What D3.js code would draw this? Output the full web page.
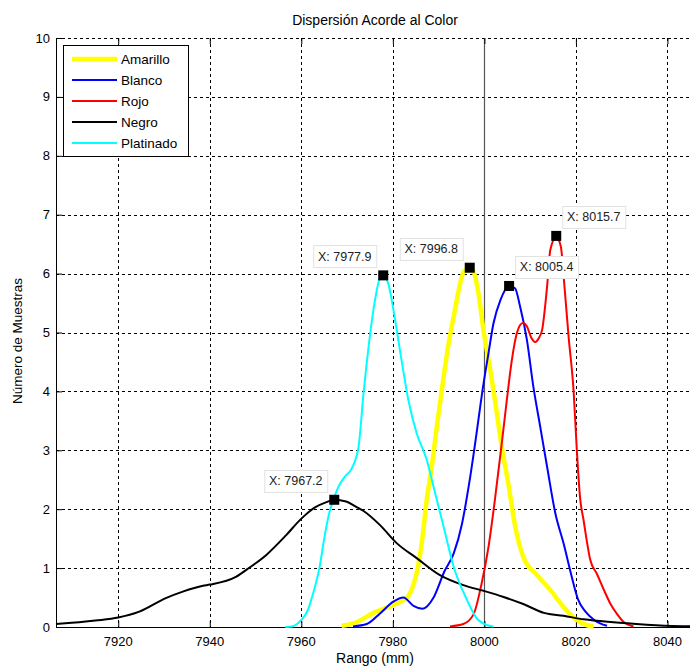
<!DOCTYPE html>
<html>
<head>
<meta charset="utf-8">
<script src="https://cdn.jsdelivr.net/npm/d3@7"></script>
<style>
  body { margin: 0; background: #fff; }
  svg { display: block; font-family: "Liberation Sans", Arial, sans-serif; }
  .grid line { stroke: #000; stroke-dasharray: 3,3; stroke-width: 1; shape-rendering: crispEdges; }
  .tick-label { font-size: 13px; fill: #000; }
</style>
</head>
<body>
<svg id="chart"></svg>
<script>
// values (x in mm, y = count)
var xTicks = [7920, 7940, 7960, 7980, 8000, 8020, 8040];
var yTicks = [0, 1, 2, 3, 4, 5, 6, 7, 8, 9, 10];

var amarillo = [[7968.8,0.02],[7971.4,0.06],[7975.8,0.24],[7980.2,0.38],[7983.1,0.5],[7984.5,0.72],[7985.3,0.95],[7986.3,1.42],[7987.4,2.16],[7988.5,2.72],[7989.6,3.4],[7991.1,4.25],[7992.2,4.82],[7993.3,5.27],[7994.4,5.72],[7995.4,6.02],[7996.8,6.1],[7997.6,6.04],[7998.7,5.67],[7999.8,5.04],[8001.3,4.36],[8002.4,3.8],[8003.8,3.06],[8005.3,2.4],[8006.7,1.72],[8008.5,1.19],[8011.5,0.88],[8014.4,0.63],[8017.3,0.34],[8020.2,0.12],[8022.4,0.03],[8023.9,0.01]];
var blanco = [[7971.3,0.01],[7974.3,0.05],[7977.2,0.23],[7980.1,0.43],[7982.3,0.5],[7984.5,0.36],[7986.5,0.31],[7988.9,0.5],[7991.3,0.95],[7993.3,1.25],[7995.1,1.75],[7996.7,2.45],[7998.4,3.35],[7999.5,3.97],[8000.9,4.65],[8002,5.16],[8003.5,5.55],[8005.4,5.79],[8006.7,5.75],[8007.8,5.44],[8009.3,4.87],[8010.7,4.08],[8012.2,3.4],[8013.7,2.72],[8015.5,1.93],[8017.3,1.42],[8019,0.88],[8020.5,0.46],[8022,0.27],[8024,0.12],[8026.8,0.02]];
var rojo = [[7992.5,0.01],[7995.4,0.05],[7997.6,0.21],[7999.4,0.74],[8000.9,1.36],[8002.2,2.1],[8003.8,3.12],[8004.9,3.85],[8006,4.53],[8007.1,4.99],[8008.4,5.16],[8009.3,5.1],[8010.2,4.92],[8011.1,4.84],[8012,4.92],[8012.6,5.04],[8013.7,5.78],[8014.4,6.4],[8015.7,6.62],[8016.7,6.46],[8017.5,5.78],[8018.4,4.93],[8019.5,4.0],[8020.2,3.0],[8020.9,2.2],[8021.7,1.8],[8022.4,1.45],[8023.1,1.15],[8024.6,0.9],[8026,0.65],[8027.5,0.4],[8029,0.22],[8030.5,0.08],[8032.6,0.01]];
var negro = [[7906.4,0.05],[7915,0.11],[7920,0.16],[7924.6,0.26],[7930.4,0.49],[7934.1,0.6],[7938.5,0.7],[7940,0.72],[7945.7,0.85],[7948.7,1.01],[7952.3,1.22],[7956.7,1.56],[7960,1.84],[7963,2.03],[7965.5,2.12],[7967.2,2.16],[7969.8,2.13],[7972,2.04],[7973.6,1.97],[7977.2,1.73],[7980.9,1.42],[7985.2,1.17],[7990.3,0.88],[7995.4,0.71],[8000,0.61],[8004.2,0.51],[8008.5,0.39],[8013,0.24],[8017.3,0.19],[8021.7,0.13],[8028.2,0.08],[8035.5,0.04],[8039.9,0.02],[8046,0.01]];
var platinado = [[7956.5,0],[7958,0.01],[7960,0.12],[7961.5,0.3],[7962.5,0.55],[7964,1.02],[7965,1.5],[7966,1.9],[7967,2.16],[7968.1,2.38],[7969.5,2.55],[7971,2.69],[7972.5,3.06],[7973.6,3.97],[7974.7,4.76],[7976.1,5.55],[7977.2,5.93],[7977.9,5.97],[7979,5.83],[7980.5,5.21],[7981.9,4.53],[7983.4,3.85],[7985.2,3.29],[7987.4,2.84],[7988.9,2.38],[7991.1,1.7],[7993.3,1.02],[7996.2,0.46],[7998.4,0.14],[8000,0.05],[8002,0.01]];

var seriesNames = ["Amarillo", "Blanco", "Rojo", "Negro", "Platinado"];
var seriesColors = ["#ffff00", "#0000ff", "#ff0000", "#000000", "#00ffff"];
var seriesData = [amarillo, blanco, rojo, negro, platinado];

// data tips: x, y, which side the label box sits on
var tipX = [7977.9, 7996.8, 8005.4, 8015.7, 7967.2];
var tipY = [5.97, 6.10, 5.79, 6.64, 2.16];
var tipSide = ["left", "left", "right", "right", "left"];

var W = 690, H = 667;
var margin = {top: 38, left: 56, bottom: 40, right: -4};
var width = W - margin.left - margin.right,
    height = H - margin.top - margin.bottom;

var svg = d3.select("#chart").attr("width", W).attr("height", H);

var x = d3.scaleLinear().domain([7906.4, 8045.8]).range([0, width]);
var y = d3.scaleLinear().domain([0, 10]).range([height, 0]);

var g = svg.append("g")
    .attr("transform", "translate(" + margin.left + "," + margin.top + ")");

// dashed grid
var grid = g.append("g").attr("class", "grid");
grid.selectAll(".gx").data(xTicks).enter().append("line")
    .attr("x1", function(d) { return Math.round(x(d)) + 0.5; })
    .attr("x2", function(d) { return Math.round(x(d)) + 0.5; })
    .attr("y1", 0).attr("y2", height);
grid.selectAll(".gy").data(yTicks.slice(1)).enter().append("line")
    .attr("y1", function(d) { return Math.round(y(d)) + 0.5; })
    .attr("y2", function(d) { return Math.round(y(d)) + 0.5; })
    .attr("x1", 0).attr("x2", width);

// solid reference line at 8000
g.append("line")
    .attr("x1", Math.round(x(8000)) + 0.5).attr("x2", Math.round(x(8000)) + 0.5)
    .attr("y1", 0).attr("y2", height)
    .attr("stroke", "#555").attr("stroke-width", 1.2);

// axes (ticks pointing inward like matlab)
var xAxis = d3.axisTop(x).tickValues(xTicks).tickSize(6).tickFormat("");
var yAxis = d3.axisRight(y).tickValues(yTicks).tickSize(6).tickFormat("");

g.append("g").attr("transform", "translate(0," + height + ")").call(xAxis)
    .call(function(s) { s.select(".domain").remove(); });
g.append("g").call(d3.axisBottom(x).tickValues(xTicks).tickSize(6).tickFormat(""))
    .call(function(s) { s.select(".domain").remove(); });
g.append("g").call(yAxis)
    .call(function(s) { s.select(".domain").remove(); });

g.append("line").attr("x1", 0.5).attr("x2", 0.5).attr("y1", 0).attr("y2", height)
    .attr("stroke", "#000");
g.append("line").attr("x1", 0).attr("x2", width).attr("y1", height + 0.5).attr("y2", height + 0.5)
    .attr("stroke", "#000");

// tick labels
g.selectAll(".xl").data(xTicks).enter().append("text")
    .attr("class", "tick-label")
    .attr("x", function(d) { return x(d); })
    .attr("y", height + 19)
    .attr("text-anchor", "middle")
    .text(function(d) { return d; });
g.selectAll(".yl").data(yTicks).enter().append("text")
    .attr("class", "tick-label")
    .attr("x", -6)
    .attr("y", function(d) { return y(d) + 4.5; })
    .attr("text-anchor", "end")
    .text(function(d) { return d; });

// curves
var line = d3.line()
    .curve(d3.curveMonotoneX)
    .x(function(d) { return x(d[0]); })
    .y(function(d) { return y(d[1]); });

var plot = g.append("g");
seriesData.forEach(function(s, i) {
    plot.append("path")
        .datum(s)
        .attr("fill", "none")
        .attr("stroke", seriesColors[i])
        .attr("stroke-width", i === 0 ? 4.5 : 2)
        .attr("stroke-linejoin", "round")
        .attr("d", line);
});

// data tips
tipX.forEach(function(tx, i) {
    var px = x(tx), py = y(tipY[i]);
    g.append("rect")
        .attr("x", px - 5).attr("y", py - 5)
        .attr("width", 10).attr("height", 10)
        .attr("fill", "#000");
    var bw = 63, bh = 22;
    var bx = tipSide[i] === "left" ? px - 7 - bw : px + 6;
    var by = py - 8 - bh;
    g.append("rect")
        .attr("x", bx + 0.5).attr("y", Math.round(by) + 0.5)
        .attr("width", bw).attr("height", bh)
        .attr("fill", "#fff").attr("stroke", "#e2e2e2");
    g.append("text")
        .attr("x", bx + bw / 2).attr("y", by + 15.5)
        .attr("text-anchor", "middle")
        .attr("font-size", "12.5px")
        .attr("fill", "#222")
        .text("X: " + tx.toFixed(1));
});

// legend
var lg = g.append("g").attr("transform", "translate(7,7)");
lg.append("rect")
    .attr("x", 0.5).attr("y", 0.5)
    .attr("width", 125).attr("height", 111)
    .attr("fill", "#fff").attr("stroke", "#000");
seriesNames.forEach(function(n, i) {
    var ly = 14 + i * 21;
    lg.append("line")
        .attr("x1", 9).attr("x2", 54)
        .attr("y1", ly).attr("y2", ly)
        .attr("stroke", seriesColors[i])
        .attr("stroke-width", i === 0 ? 4.5 : 2);
    lg.append("text")
        .attr("x", 58).attr("y", ly + 5)
        .attr("font-size", "13.5px")
        .text(n);
});

// titles
svg.append("text")
    .attr("x", 375).attr("y", 25)
    .attr("text-anchor", "middle")
    .attr("font-size", "14px")
    .text("Dispersión Acorde al Color");
svg.append("text")
    .attr("x", 375).attr("y", 663)
    .attr("text-anchor", "middle")
    .attr("font-size", "14px")
    .text("Rango (mm)");
svg.append("text")
    .attr("transform", "translate(22," + 341 + ") rotate(-90)")
    .attr("text-anchor", "middle")
    .attr("font-size", "13.5px")
    .text("Número de Muestras");
</script>
</body>
</html>
